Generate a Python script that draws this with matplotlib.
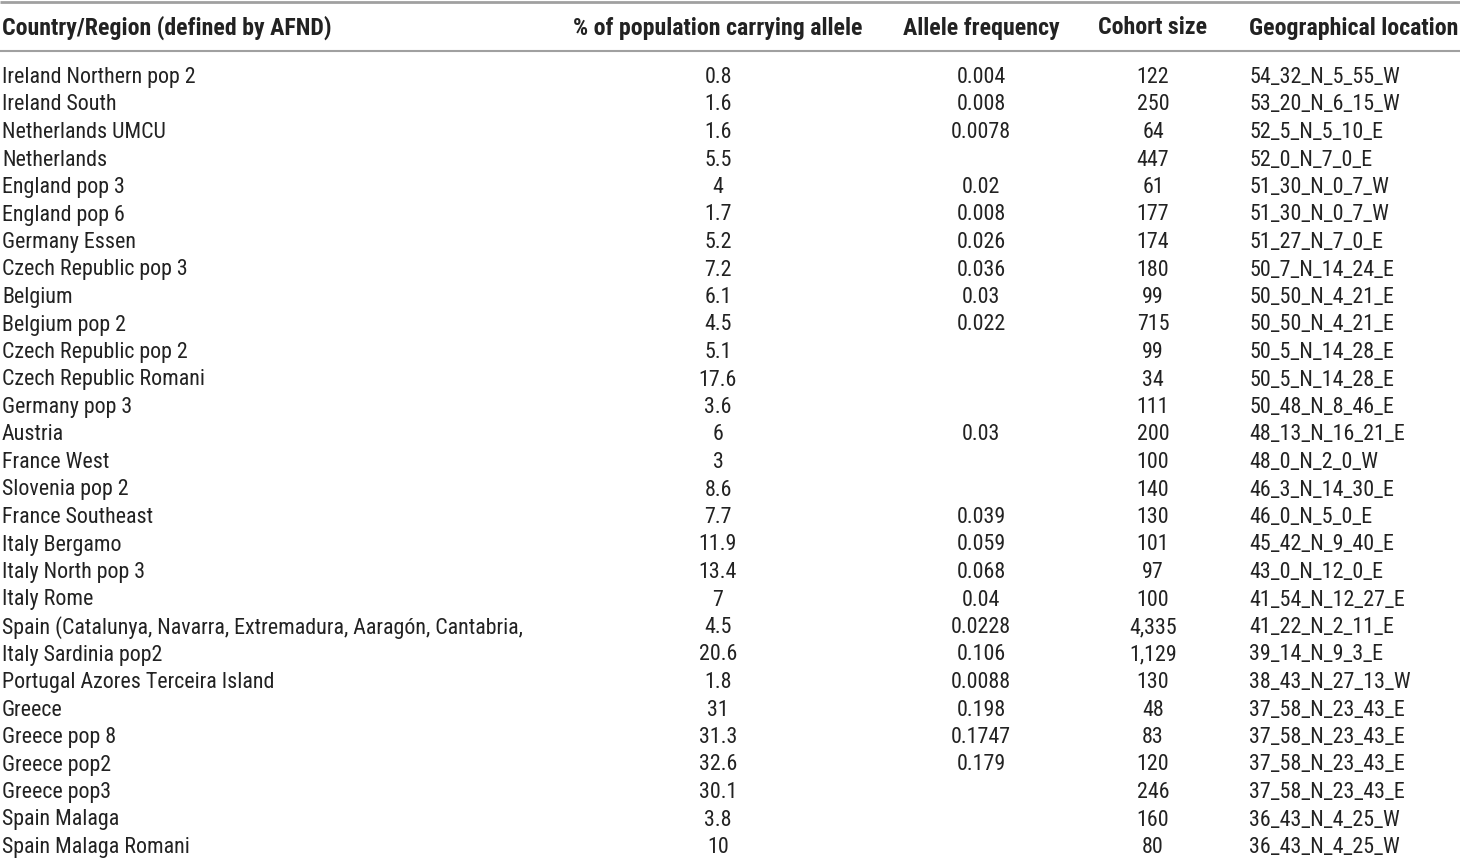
import matplotlib
matplotlib.use("Agg")
import matplotlib.pyplot as plt
from matplotlib import font_manager

headers = ["Country/Region (defined by AFND)", "% of population carrying allele",
           "Allele frequency", "Cohort size", "Geographical location"]

regions = [
    "Ireland Northern pop 2", "Ireland South", "Netherlands UMCU", "Netherlands",
    "England pop 3", "England pop 6", "Germany Essen", "Czech Republic pop 3",
    "Belgium", "Belgium pop 2", "Czech Republic pop 2", "Czech Republic Romani",
    "Germany pop 3", "Austria", "France West", "Slovenia pop 2", "France Southeast",
    "Italy Bergamo", "Italy North pop 3", "Italy Rome",
    "Spain (Catalunya, Navarra, Extremadura, Aaragón, Cantabria,",
    "Italy Sardinia pop2", "Portugal Azores Terceira Island", "Greece",
    "Greece pop 8", "Greece pop2", "Greece pop3", "Spain Malaga", "Spain Malaga Romani",
]
pct_carrying = ["0.8", "1.6", "1.6", "5.5", "4", "1.7", "5.2", "7.2", "6.1", "4.5",
                "5.1", "17.6", "3.6", "6", "3", "8.6", "7.7", "11.9", "13.4", "7",
                "4.5", "20.6", "1.8", "31", "31.3", "32.6", "30.1", "3.8", "10"]
allele_freq = ["0.004", "0.008", "0.0078", "", "0.02", "0.008", "0.026", "0.036",
               "0.03", "0.022", "", "", "", "0.03", "", "", "0.039", "0.059",
               "0.068", "0.04", "0.0228", "0.106", "0.0088", "0.198", "0.1747",
               "0.179", "", "", ""]
cohort_size = ["122", "250", "64", "447", "61", "177", "174", "180", "99", "715",
               "99", "34", "111", "200", "100", "140", "130", "101", "97", "100",
               "4,335", "1,129", "130", "48", "83", "120", "246", "160", "80"]
geo_location = ["54_32_N_5_55_W", "53_20_N_6_15_W", "52_5_N_5_10_E", "52_0_N_7_0_E",
                "51_30_N_0_7_W", "51_30_N_0_7_W", "51_27_N_7_0_E", "50_7_N_14_24_E",
                "50_50_N_4_21_E", "50_50_N_4_21_E", "50_5_N_14_28_E", "50_5_N_14_28_E",
                "50_48_N_8_46_E", "48_13_N_16_21_E", "48_0_N_2_0_W", "46_3_N_14_30_E",
                "46_0_N_5_0_E", "45_42_N_9_40_E", "43_0_N_12_0_E", "41_54_N_12_27_E",
                "41_22_N_2_11_E", "39_14_N_9_3_E", "38_43_N_27_13_W", "37_58_N_23_43_E",
                "37_58_N_23_43_E", "37_58_N_23_43_E", "37_58_N_23_43_E", "36_43_N_4_25_W",
                "36_43_N_4_25_W"]

W, H = 1460, 858
fig = plt.figure(figsize=(W / 100, H / 100), dpi=100)
ax = fig.add_axes([0, 0, 1, 1])
ax.set_xlim(0, W)
ax.set_ylim(H, 0)
ax.axis("off")

names = [f.name for f in font_manager.fontManager.ttflist]
narrow = "Liberation Sans Narrow" if "Liberation Sans Narrow" in names else "Roboto Condensed"
family = [narrow, "DejaVu Sans"]
fs = 15.8
fs_head = 17.2

# column anchors (x, alignment)
cols = [(2, "left"), (718, "center"), (981, "center"), (1153, "center"), (1249, "left")]
line_color = "#a0a0a0"

# rules
ax.plot([0, W], [2, 2], color=line_color, lw=2, solid_capstyle="butt")
ax.plot([0, W], [51, 51], color=line_color, lw=1.5, solid_capstyle="butt")

for (x, ha), h in zip(cols, headers):
    ax.text(x, 28, h, ha=ha, va="center", fontsize=fs_head, fontweight="bold",
            family=family, color="#222222")

y0, dy = 77.5, 27.5
columns = [regions, pct_carrying, allele_freq, cohort_size, geo_location]
for i in range(len(regions)):
    y = y0 + i * dy
    for (x, ha), col in zip(cols, columns):
        if col[i]:
            ax.text(x, y, col[i], ha=ha, va="center", fontsize=fs,
                    family=family, color="#222222")

fig.savefig("out.png", dpi=100)
